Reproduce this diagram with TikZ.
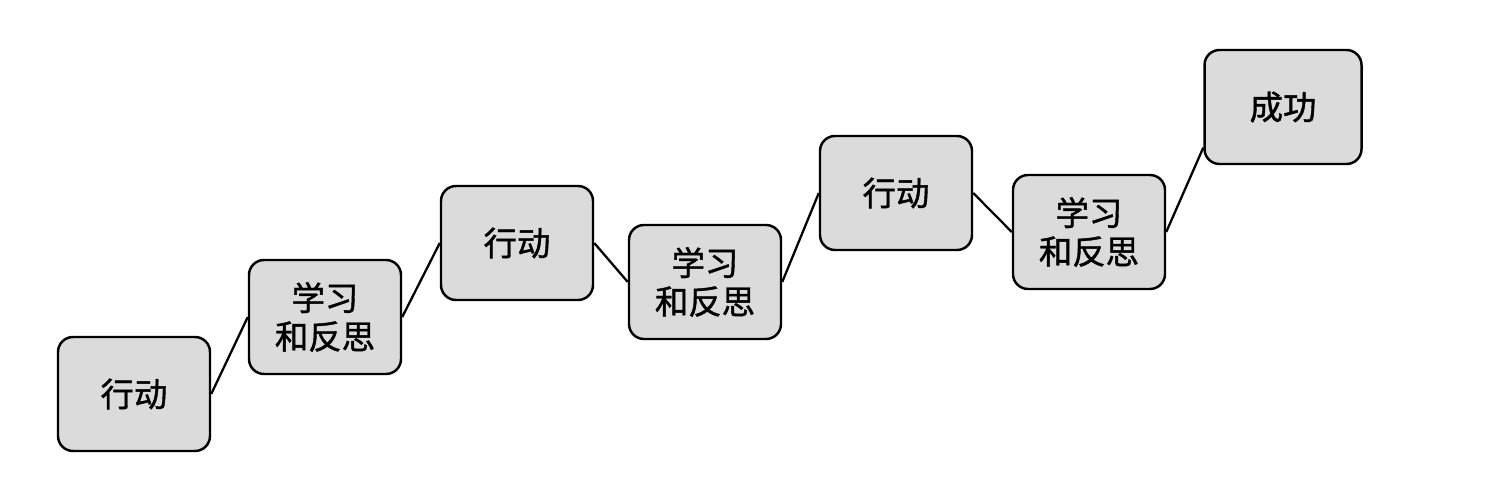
\documentclass[tikz,border=0pt]{standalone}
\usepackage{fontspec}
\newfontfamily\cjk{Noto Sans CJK SC}[BoldFont={Noto Sans CJK SC}, BoldFeatures={FakeBold=1.2}]
\begin{document}
\begin{tikzpicture}[
    stepbox/.style={draw, line width=1.4pt, rounded corners=0.3cm, fill=gray!28,
      minimum width=3.04cm, minimum height=2.28cm, align=center,
      font=\cjk\bfseries\fontsize{19}{22}\selectfont}
  ]
  \useasboundingbox (0,0) rectangle (30,-9.56);
  \node[stepbox] (a1) at (2.68,-7.88) {行动};
  \node[stepbox] (b1) at (6.5,-6.34) {学习\\和反思};
  \node[stepbox] (a2) at (10.34,-4.86) {行动};
  \node[stepbox] (b2) at (14.1,-5.64) {学习\\和反思};
  \node[stepbox] (a3) at (17.92,-3.86) {行动};
  \node[stepbox] (b3) at (21.78,-4.64) {学习\\和反思};
  \node[stepbox, minimum width=3.14cm] (s) at (25.66,-2.14) {成功};
  % ups and downs
  \draw[line width=1.3pt] (a1.east) -- (b1.west);
  \draw[line width=1.3pt] (b1.east) -- (a2.west);
  \draw[line width=1.3pt] (a2.east) -- (b2.west);
  \draw[line width=1.3pt] (b2.east) -- (a3.west);
  \draw[line width=1.3pt] (a3.east) -- (b3.west);
  \draw[line width=1.3pt] (b3.east) -- (s.207);
\end{tikzpicture}
\end{document}
